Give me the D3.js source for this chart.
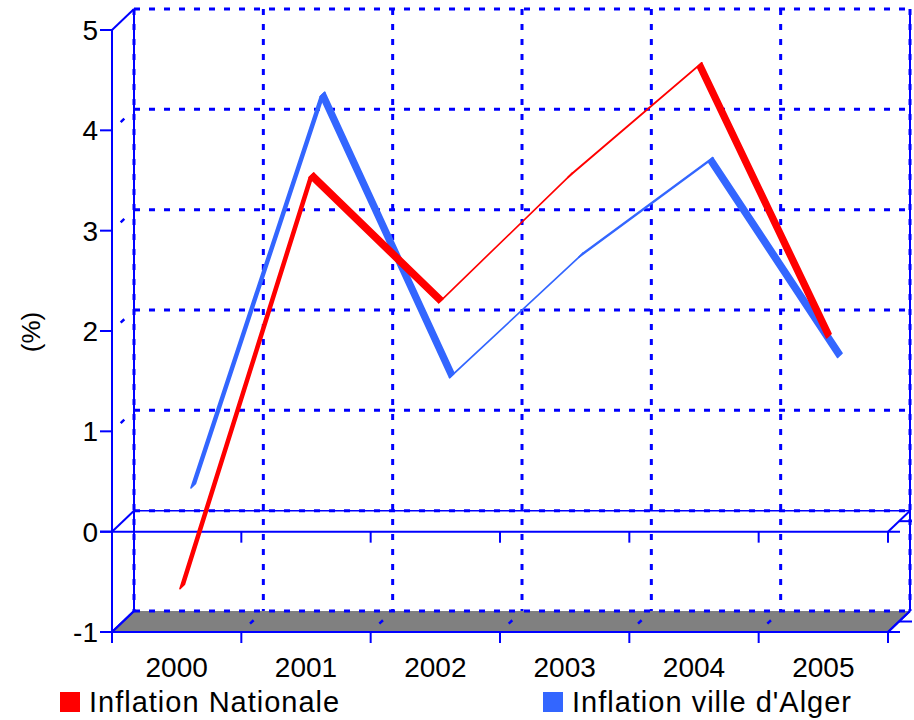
<!DOCTYPE html>
<html>
<head>
<meta charset="utf-8">
<script src="https://cdn.jsdelivr.net/npm/d3@7"></script>
<style>
  body { margin: 0; background: #fff; }
  svg { font-family: "Liberation Sans", Arial, sans-serif; }
</style>
</head>
<body>
<div id="chart"></div>
<script>
// chart values
var years = ["2000", "2001", "2002", "2003", "2004", "2005"];
var nationale = [-0.6, 3.5, 2.25, 3.5, 4.6, 1.9];
var alger = [0.3, 4.2, 1.4, 2.6, 3.55, 1.6];
var yTicks = [-1, 0, 1, 2, 3, 4, 5];
var seriesNames = ["Inflation Nationale", "Inflation ville d'Alger"];
var seriesColors = ["#ff0000", "#3366ff"];

var width = 914, height = 720;
var depthX = 22, depthY = -21;   // offset of the back wall
var blue = "#0000ff";
var dots = "6 9";

var x = d3.scaleBand().domain(years).range([112, 888]).padding(0);
var y = d3.scaleLinear().domain([-1, 5]).range([632, 30]);

// project a (category, value, depth fraction) point
var proj = (cat, v, f) => [x(cat) + x.bandwidth() / 2 + f * depthX, y(v) + f * depthY];

var svg = d3.select("#chart").append("svg")
    .attr("width", width)
    .attr("height", height);

var x0 = x.range()[0], x1 = x.range()[1];
var edges = years.map(d => x(d)).concat([x1]);

// floor
svg.append("polygon")
    .attr("points", [[x0, y(-1)], [x1, y(-1)], [x1 + depthX, y(-1) + depthY], [x0 + depthX, y(-1) + depthY]].join(" "))
    .attr("fill", "#808080");

// back wall horizontal grid
svg.append("g").selectAll("line")
    .data(yTicks)
    .join("line")
    .attr("x1", x0 + depthX).attr("x2", x1 + depthX)
    .attr("y1", d => y(d) + depthY).attr("y2", d => y(d) + depthY)
    .attr("stroke", blue).attr("stroke-width", 3)
    .attr("stroke-dasharray", dots);

// solid line at back zero
svg.append("line")
    .attr("x1", x0 + depthX).attr("x2", x1 + depthX)
    .attr("y1", y(0) + depthY).attr("y2", y(0) + depthY)
    .attr("stroke", blue).attr("stroke-width", 1.5);

// back wall vertical grid
svg.append("g").selectAll("line")
    .data(edges)
    .join("line")
    .attr("x1", d => d + depthX).attr("x2", d => d + depthX)
    .attr("y1", y(5) + depthY).attr("y2", y(-1) + depthY)
    .attr("stroke", blue).attr("stroke-width", 3)
    .attr("stroke-dasharray", dots);

// solid back corners
[x0, x1].forEach(xx => {
    svg.append("line")
        .attr("x1", xx + depthX).attr("x2", xx + depthX)
        .attr("y1", y(5) + depthY).attr("y2", y(-1) + depthY)
        .attr("stroke", blue).attr("stroke-width", 2);
});

// left wall diagonals
svg.append("g").selectAll("line")
    .data(yTicks)
    .join("line")
    .attr("x1", x0).attr("y1", d => y(d))
    .attr("x2", x0 + depthX).attr("y2", d => y(d) + depthY)
    .attr("stroke", blue)
    .attr("stroke-width", d => (d === 5 || d === 0 || d === -1) ? 2 : 2.5)
    .attr("stroke-dasharray", d => (d === 5 || d === 0 || d === -1) ? null : "0 12 5 100");

// floor diagonals
svg.append("g").selectAll("line")
    .data(edges)
    .join("line")
    .attr("x1", d => d).attr("y1", y(-1))
    .attr("x2", d => d + depthX).attr("y2", y(-1) + depthY)
    .attr("stroke", blue)
    .attr("stroke-width", (d, i) => (i === 0 || i === edges.length - 1) ? 2 : 2.5)
    .attr("stroke-dasharray", (d, i) => (i === 0 || i === edges.length - 1) ? null : "0 12 5 100");

// right side diagonals and their small ticks
[0, -1].forEach(v => {
    svg.append("line")
        .attr("x1", x1).attr("y1", y(v))
        .attr("x2", x1 + depthX).attr("y2", y(v) + depthY)
        .attr("stroke", blue).attr("stroke-width", 2);
    svg.append("line")
        .attr("x1", x1 + depthX / 2).attr("y1", y(v) + depthY / 2)
        .attr("x2", x1 + depthX + 2).attr("y2", y(v) + depthY / 2)
        .attr("stroke", blue).attr("stroke-width", 2);
});

// front axes
svg.append("line")
    .attr("x1", x0).attr("x2", x0)
    .attr("y1", y(5)).attr("y2", y(-1) + 11)
    .attr("stroke", blue).attr("stroke-width", 2);

[0, -1].forEach(v => {
    svg.append("line")
        .attr("x1", x0 - 12).attr("x2", x1 + 12)
        .attr("y1", y(v)).attr("y2", y(v))
        .attr("stroke", blue).attr("stroke-width", 2);
    svg.append("g").selectAll("line")
        .data(edges)
        .join("line")
        .attr("x1", d => d).attr("x2", d => d)
        .attr("y1", y(v)).attr("y2", y(v) + 11)
        .attr("stroke", blue).attr("stroke-width", 2);
});

// y ticks and labels
svg.append("g").selectAll("line")
    .data(yTicks)
    .join("line")
    .attr("x1", x0 - 12).attr("x2", x0)
    .attr("y1", d => y(d)).attr("y2", d => y(d))
    .attr("stroke", blue).attr("stroke-width", 2);

svg.append("g").selectAll("text")
    .data(yTicks)
    .join("text")
    .attr("x", x0 - 14)
    .attr("y", d => y(d) + 10)
    .attr("text-anchor", "end")
    .attr("font-size", 28)
    .text(d => d);

svg.append("text")
    .attr("transform", `translate(40, ${(y(5) + y(-1)) / 2 + 1}) rotate(-90)`)
    .attr("text-anchor", "middle")
    .attr("font-size", 26)
    .text("(%)");

// x labels
svg.append("g").selectAll("text")
    .data(years)
    .join("text")
    .attr("x", d => x(d) + x.bandwidth() / 2)
    .attr("y", 677)
    .attr("text-anchor", "middle")
    .attr("font-size", 28)
    .text(d => d);

// 3D ribbons, back series first
var series = [
    { values: nationale, color: seriesColors[0], depth: 0.25 },
    { values: alger, color: seriesColors[1], depth: 0.75 }
];
var half = 0.1;

series.slice().reverse().forEach(s => {
    var segs = d3.range(years.length - 1).map(i => [
        proj(years[i], s.values[i], s.depth - half),
        proj(years[i + 1], s.values[i + 1], s.depth - half),
        proj(years[i + 1], s.values[i + 1], s.depth + half),
        proj(years[i], s.values[i], s.depth + half)
    ]);
    svg.append("g").selectAll("polygon")
        .data(segs)
        .join("polygon")
        .attr("points", d => d.join(" "))
        .attr("fill", s.color)
        .attr("stroke", s.color)
        .attr("stroke-width", 1.6)
        .attr("stroke-linejoin", "round");
});

// legend
var legendX = [60, 543];
var legend = svg.append("g").selectAll("g")
    .data(seriesNames)
    .join("g")
    .attr("transform", (d, i) => `translate(${legendX[i]}, 692)`);

legend.append("rect")
    .attr("width", 20).attr("height", 20)
    .attr("fill", (d, i) => seriesColors[i]);

legend.append("text")
    .attr("x", 29)
    .attr("y", 20)
    .attr("font-size", 29)
    .attr("letter-spacing", 1)
    .text(d => d);
</script>
</body>
</html>
